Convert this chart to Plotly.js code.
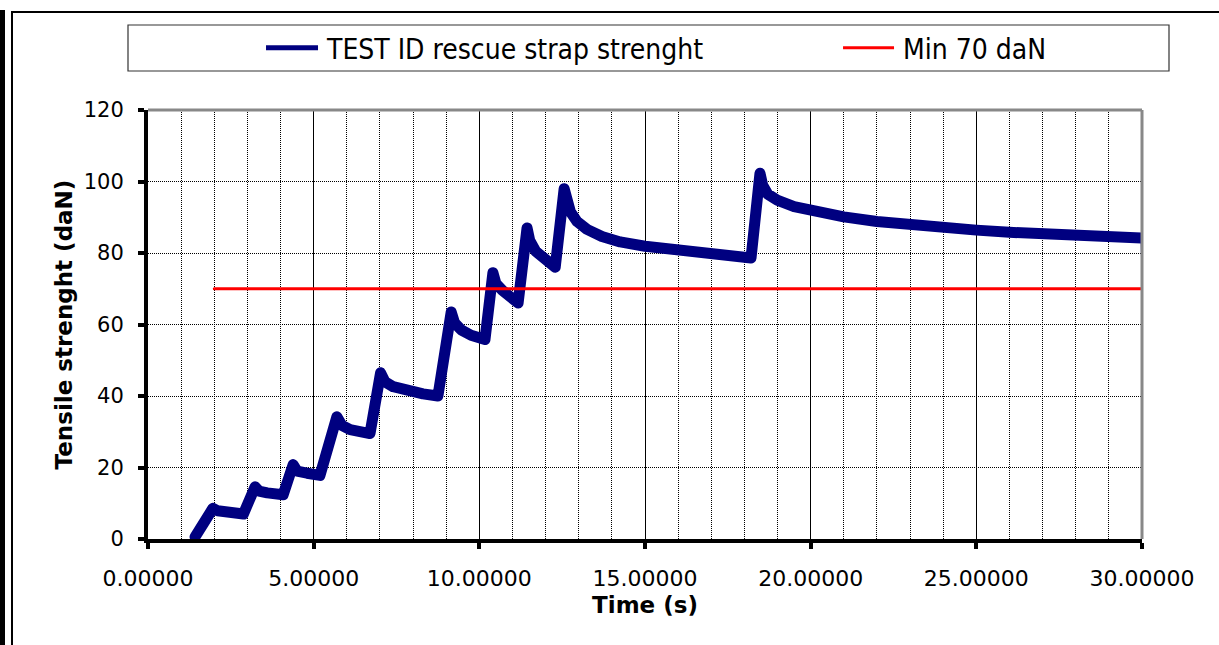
<!DOCTYPE html>
<html>
<head>
<meta charset="utf-8">
<script src="https://cdn.plot.ly/plotly-3.0.1.min.js"></script>
<style>
  html, body { margin: 0; padding: 0; background: #fff; }
  #wrap { position: relative; width: 1219px; height: 645px; overflow: hidden; }
  #chart { position: absolute; left: 0; top: 0; width: 1219px; height: 645px; }
  .frame { position: absolute; background: #000; pointer-events: none; }
</style>
</head>
<body>
<div id="wrap">
  <div id="chart"></div>
  <div class="frame" style="left:0;top:10px;width:5px;height:635px;"></div>
  <div class="frame" style="left:11px;top:11px;width:2px;height:634px;"></div>
  <div class="frame" style="left:11px;top:11px;width:1208px;height:2px;"></div>
</div>
<script>
// ---- data ----
const seriesName = 'TEST ID rescue strap strenght';
const time = [1.42, 1.96, 2.1, 2.5, 2.88,
  3.23, 3.35, 3.6, 4.08,
  4.38, 4.5, 4.8, 5.19,
  5.7, 5.85, 6.1, 6.4, 6.7,
  7.02, 7.15, 7.4, 7.8, 8.3, 8.75,
  9.15, 9.25, 9.45, 9.75, 10.17,
  10.41, 10.5, 10.7, 10.95, 11.17,
  11.44, 11.52, 11.7, 11.95, 12.29,
  12.56, 12.62, 12.75, 12.95, 13.25, 13.7, 14.25, 15.0, 16.0, 17.0, 18.2,
  18.47, 18.55, 18.7, 18.99, 19.5, 20.0, 21.0, 22.0, 23.0, 24.0, 25.0, 26.0, 27.0, 28.0, 29.0, 29.98];
const strength = [0.6, 8.6, 7.9, 7.3, 7.0,
  14.6, 13.4, 12.9, 12.4,
  20.8, 19.0, 18.4, 17.8,
  34.2, 31.8, 30.6, 30.0, 29.5,
  46.5, 44.0, 42.6, 41.5, 40.6, 40.0,
  63.5, 60.5, 58.5, 57.0, 55.8,
  74.5, 71.5, 69.5, 67.5, 66.0,
  87.0, 83.5, 80.5, 78.3, 76.0,
  98.0, 95.0, 91.5, 88.8, 86.6, 84.6, 83.1, 81.9, 80.7, 79.6, 78.6,
  102.3, 99.0, 96.5, 94.8, 93.0, 92.0, 90.1, 88.8, 87.8, 87.0, 86.4, 85.8, 85.3, 84.9, 84.5, 84.2];
const endDropTime = [29.98, 30.0];
const endDropStrength = [84.2, 75.0];
const minName = 'Min 70 daN';
const minTime = [2.0, 30.0];
const minValue = [70, 70];
const xTicks = [0, 5, 10, 15, 20, 25, 30];
const yTicks = [0, 20, 40, 60, 80, 100, 120];

const navy = '#000080';
const traces = [
  { x: time, y: strength, type: 'scatter', mode: 'lines', name: seriesName, legend: 'legend',
    line: { color: navy, width: 11 } },
  { x: endDropTime, y: endDropStrength, type: 'scatter', mode: 'lines', showlegend: false,
    line: { color: navy, width: 1.5 }, hoverinfo: 'skip' },
  { x: minTime, y: minValue, type: 'scatter', mode: 'lines', name: minName, legend: 'legend2',
    line: { color: '#ff0000', width: 3 } }
];

const fam = 'DejaVu Sans, Verdana, sans-serif';
const legFont = { family: 'DejaVu Sans Condensed, Liberation Sans Narrow, Liberation Sans, sans-serif', size: 28, color: '#000' };
const titleFont = { family: fam, size: 23, color: '#000', weight: 'bold' };

const layout = {
  width: 1219, height: 645,
  margin: { l: 148, r: 77, t: 110, b: 106, pad: 0, autoexpand: false },
  paper_bgcolor: '#ffffff', plot_bgcolor: '#ffffff',
  showlegend: true,
  legend: {
    orientation: 'h', x: 0.1137, xanchor: 'left', y: 1.1445, yanchor: 'middle',
    bgcolor: 'rgba(0,0,0,0)', borderwidth: 0, itemwidth: 56, font: legFont
  },
  legend2: {
    orientation: 'h', x: 0.6942, xanchor: 'left', y: 1.1445, yanchor: 'middle',
    bgcolor: 'rgba(0,0,0,0)', borderwidth: 0, itemwidth: 55, font: legFont
  },
  xaxis: {
    range: [0, 30], tickmode: 'array', tickvals: xTicks, tickformat: '.5f',
    showline: true, linecolor: '#000', linewidth: 4,
    ticks: 'outside', ticklen: 6, tickwidth: 4, tickcolor: '#000',
    showgrid: true, gridcolor: '#000', gridwidth: 1, zeroline: false,
    minor: { dtick: 1, tick0: 0, showgrid: true, gridcolor: '#000', gridwidth: 1, griddash: '1px,1px' },
    tickfont: { family: fam, size: 22, color: '#000' }, ticklabelstandoff: 11,
    title: { text: 'Time (s)', font: titleFont, standoff: 7 },
    automargin: false, fixedrange: true
  },
  yaxis: {
    range: [0, 120], tickmode: 'array', tickvals: yTicks,
    showline: true, linecolor: '#000', linewidth: 4,
    ticks: 'outside', ticklen: 6, tickwidth: 4, tickcolor: '#000',
    showgrid: true, gridcolor: '#000', gridwidth: 1, griddash: '1px,1px', zeroline: false,
    tickfont: { family: fam, size: 21, color: '#000' }, ticklabelstandoff: 10,
    title: { text: 'Tensile strenght (daN)', font: titleFont, standoff: 6 },
    automargin: false, fixedrange: true
  },
  shapes: [
    { type: 'line', xref: 'paper', yref: 'paper', x0: 0, x1: 1, y0: 1, y1: 1,
      line: { color: '#888888', width: 3 } },
    { type: 'line', xref: 'paper', yref: 'paper', x0: 1, x1: 1, y0: 0, y1: 1,
      line: { color: '#888888', width: 3 } },
    { type: 'rect', xref: 'paper', yref: 'paper',
      x0: (128 - 148) / 994, x1: (1169 - 148) / 994, y0: (539 - 71) / 429, y1: (539 - 25) / 429,
      line: { color: '#333333', width: 1.2 }, fillcolor: 'rgba(0,0,0,0)' }
  ]
};

Plotly.newPlot('chart', traces, layout, { staticPlot: true, displayModeBar: false }).then(function (gd) {
  // lengthen legend line samples to match the reference
  gd.querySelectorAll('.legendlines path').forEach(function (p) {
    const stroke = (p.style.stroke || '').replace(/\s/g, '');
    if (stroke.indexOf('255,0,0') >= 0) {
      p.setAttribute('d', 'M5,0h51');
    } else {
      p.setAttribute('d', 'M5,0h52');
      p.style.strokeWidth = '5px';
    }
  });
  // rounded joins like the reference's dense marker band
  gd.querySelectorAll('.scatterlayer .js-line').forEach(function (p) {
    p.style.strokeLinejoin = 'round';
    p.style.strokeLinecap = 'round';
  });
});
</script>
</body>
</html>
